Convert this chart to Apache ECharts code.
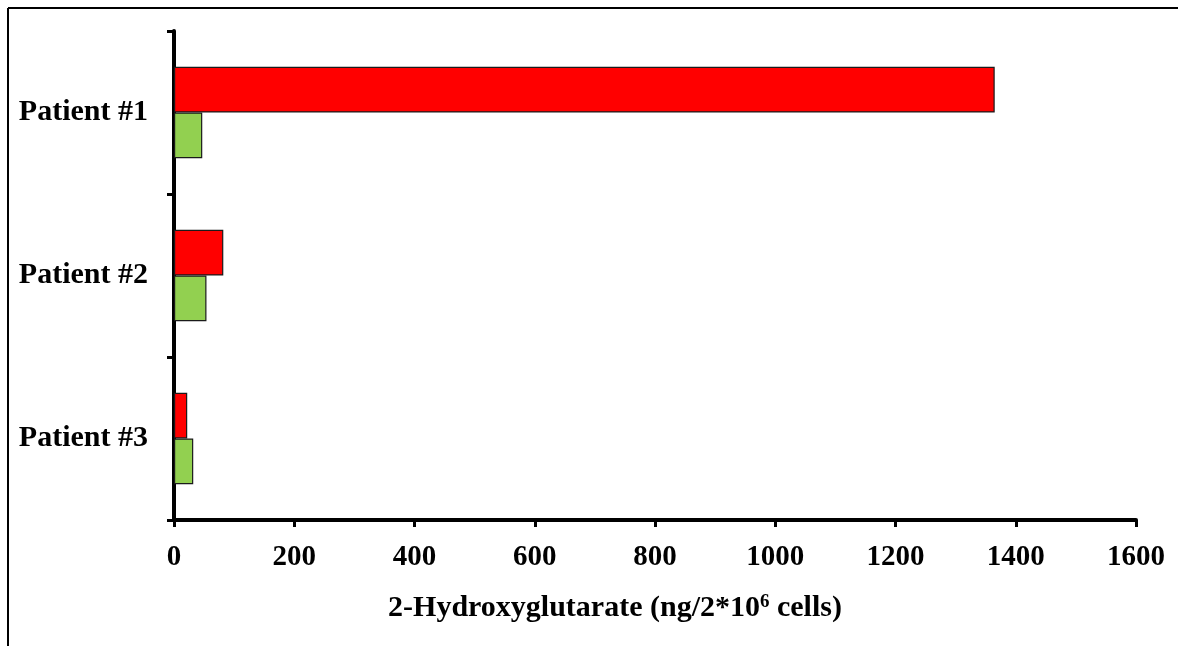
<!DOCTYPE html>
<html>
<head>
<meta charset="utf-8">
<style>
  html, body { margin: 0; padding: 0; background: #ffffff; }
  #chart { width: 1178px; height: 646px; }
</style>
<script src="https://cdn.jsdelivr.net/npm/echarts@6/dist/echarts.min.js"></script>
</head>
<body>
<div id="chart"></div>
<script>
// Patients shown on the category axis (top to bottom)
const patients = ['Patient #1', 'Patient #2', 'Patient #3'];
// 2-HG levels per patient, ng per 2*10^6 cells
const redSeries = [1365, 82, 22];
const greenSeries = [47, 54, 32];
// Value axis range and step
const xMin = 0;
const xMax = 1600;
const xStep = 200;

const FONT = '"Liberation Serif", "Times New Roman", serif';

const chart = echarts.init(document.getElementById('chart'), null, { renderer: 'canvas' });

chart.setOption({
  animation: false,
  backgroundColor: '#ffffff',
  grid: { left: 174, right: 42, top: 31, bottom: 126, containLabel: false },
  xAxis: {
    type: 'value',
    min: xMin,
    max: xMax,
    interval: xStep,
    splitLine: { show: false },
    axisLine: { show: true, lineStyle: { color: '#000', width: 4 } },
    axisTick: { show: true, length: 7, lineStyle: { color: '#000', width: 3 } },
    axisLabel: {
      margin: 23,
      color: '#000',
      fontFamily: FONT,
      fontWeight: 'bold',
      fontSize: 29,
      formatter: (v) => String(v)
    },
    name: '{a|2-Hydroxyglutarate (ng/2*10}{s|6}{a| cells)}',
    nameLocation: 'middle',
    nameGap: 73,
    nameTextStyle: {
      padding: [0, 80, 0, 0],
      rich: {
        a: { fontFamily: FONT, fontWeight: 'bold', fontSize: 30, color: '#000', verticalAlign: 'bottom' },
        s: { fontFamily: FONT, fontWeight: 'bold', fontSize: 19, color: '#000', verticalAlign: 'top', padding: [0, 0, 9, 0] }
      }
    }
  },
  yAxis: {
    type: 'category',
    inverse: true,
    data: patients,
    axisLine: { show: true, lineStyle: { color: '#000', width: 4 } },
    axisTick: { show: true, length: 7, lineStyle: { color: '#000', width: 3 } },
    axisLabel: {
      margin: 26,
      color: '#000',
      fontFamily: FONT,
      fontWeight: 'bold',
      fontSize: 30,
      padding: [12, 0, 0, 0]
    }
  },
  series: [
    {
      type: 'bar',
      data: redSeries,
      barGap: '0%',
      barCategoryGap: '44%',
      itemStyle: { color: '#ff0000', borderColor: '#1a1a1a', borderWidth: 1.2 }
    },
    {
      type: 'bar',
      data: greenSeries,
      barGap: '0%',
      barCategoryGap: '44%',
      itemStyle: { color: '#92d050', borderColor: '#1a1a1a', borderWidth: 1.2 }
    }
  ],
  graphic: [
    // frame: top and left rules
    { type: 'line', shape: { x1: 8, y1: 8, x2: 1178, y2: 8 }, style: { stroke: '#000', lineWidth: 2 }, silent: true },
    { type: 'line', shape: { x1: 8, y1: 8, x2: 8, y2: 646 }, style: { stroke: '#000', lineWidth: 2 }, silent: true }
  ]
});
</script>
</body>
</html>
